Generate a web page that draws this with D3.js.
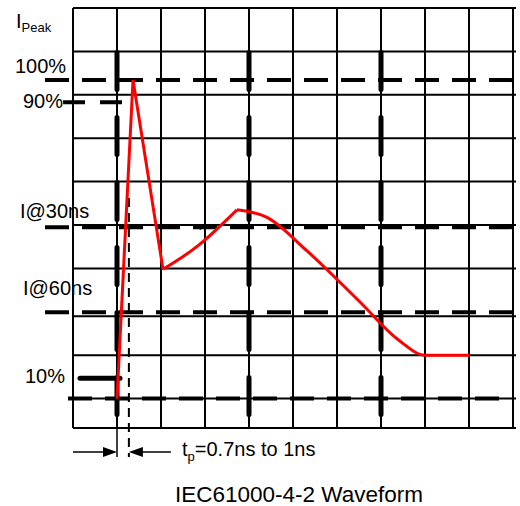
<!DOCTYPE html>
<html>
<head>
<meta charset="utf-8">
<script src="https://cdn.jsdelivr.net/npm/d3@7"></script>
<style>
  body { margin: 0; background: #fff; }
  text { font-family: "Liberation Sans", Arial, sans-serif; fill: #000; }
</style>
</head>
<body>
<div id="chart"></div>
<script>
// =========================
// IEC61000-4-2 waveform
// =========================

// grid, in divisions (x: columns from the left edge, y: rows above the 10% line)
const colLines = [0, 1, 2, 3, 4, 5, 6, 7, 8, 9, 10];
const rowLines = [-0.68, 0, 1, 1.9, 3, 4, 5, 6, 7, 8, 9];
const markerCols = [1, 4, 7];

// reference levels
const levelNames = ["100%", "90%", "I@30ns", "I@60ns", "10%"];
const levelDivs = [7.34, 6.83, 3.95, 1.99, 0];

// waveform
const riseX = [1.0, 1.364, 2.045];
const riseY = [0, 7.34, 2.98];
const humpX = [2.045, 2.85, 3.727];
const humpY = [2.98, 3.53, 4.35];
const tailX = [3.727, 4.4, 5.3, 6.5, 7.4, 8.0, 9.0];
const tailY = [4.35, 4.18, 3.42, 2.25, 1.35, 1.0, 1.0];

// rise time marker
const tpStart = 1.0;
const tpEnd = 1.27;
const tpLabel = "=0.7ns to 1ns";
const title = "IEC61000-4-2 Waveform";

// -------------------------
// SETUP
// -------------------------
const W = 520, H = 506;
const svg = d3.select("#chart").append("svg").attr("width", W).attr("height", H);

const x = d3.scaleLinear().domain([0, 10]).range([73, 513]);
const y = d3.scaleLinear().domain([0, 9]).range([398.6, 8]);

const zip = (xs, ys) => xs.map((v, i) => [v, ys[i]]);

// -------------------------
// GRID
// -------------------------
const grid = svg.append("g").attr("stroke", "#000").attr("stroke-width", 2);

grid.selectAll("line.v").data(colLines).enter().append("line")
  .attr("x1", d => x(d)).attr("x2", d => x(d))
  .attr("y1", y(9)).attr("y2", y(-0.68));

grid.selectAll("line.h").data(rowLines).enter().append("line")
  .attr("x1", x(0)).attr("x2", x(10) + 3)
  .attr("y1", d => y(d)).attr("y2", d => y(d));

// heavy dashed markers on columns 1, 4, 7
svg.append("g").selectAll("line").data(markerCols).enter().append("line")
  .attr("x1", d => x(d)).attr("x2", d => x(d))
  .attr("y1", 52.5).attr("y2", 420)
  .attr("stroke", "#000").attr("stroke-width", 5)
  .attr("stroke-linecap", "round")
  .attr("stroke-dasharray", "37,28");

// -------------------------
// LEVEL LINES + LABELS
// -------------------------
const levelLayout = {
  "100%":   { x1: 45, x2: 513, lx: 15, dy: -7 },
  "90%":    { x1: 63, x2: 123, lx: 23, dy: 6 },
  "I@30ns": { x1: 45, x2: 517, lx: 20, dy: -9 },
  "I@60ns": { x1: 45, x2: 517, lx: 23, dy: -17 },
  "10%":    { x1: 68, x2: 514, lx: 25, dy: -16 }
};

const levels = zip(levelNames, levelDivs);

svg.append("g").selectAll("line").data(levels).enter().append("line")
  .attr("x1", d => levelLayout[d[0]].x1).attr("x2", d => levelLayout[d[0]].x2)
  .attr("y1", d => y(d[1])).attr("y2", d => y(d[1]))
  .attr("stroke", "#000").attr("stroke-width", 4)
  .attr("stroke-dasharray", d => d[0] === "90%" ? "22,15" : "24,13");

svg.append("g").selectAll("text").data(levels).enter().append("text")
  .attr("x", d => levelLayout[d[0]].lx)
  .attr("y", d => y(d[1]) + levelLayout[d[0]].dy)
  .attr("font-size", 20)
  .text(d => d[0]);

// 10% pointer
svg.append("line")
  .attr("x1", 80).attr("x2", x(1) + 3)
  .attr("y1", y(0.47)).attr("y2", y(0.47))
  .attr("stroke", "#000").attr("stroke-width", 5).attr("stroke-linecap", "round");

// I Peak
const peak = svg.append("text").attr("x", 16).attr("y", 28).attr("font-size", 20);
peak.append("tspan").text("I");
peak.append("tspan").attr("font-size", 13).attr("dy", 4).text("Peak");

// stray tick on the 30ns line
svg.append("line")
  .attr("x1", x(2.77)).attr("y1", y(3.99)).attr("x2", x(2.91)).attr("y2", y(3.9))
  .attr("stroke", "#000").attr("stroke-width", 1.5);

// -------------------------
// RISE TIME MARKER
// -------------------------
const arrowY = 452;

svg.append("line")
  .attr("x1", x(tpStart)).attr("x2", x(tpStart))
  .attr("y1", y(0)).attr("y2", arrowY + 5)
  .attr("stroke", "#000").attr("stroke-width", 1.5);

svg.append("line")
  .attr("x1", x(tpEnd)).attr("x2", x(tpEnd))
  .attr("y1", 198).attr("y2", arrowY + 5)
  .attr("stroke", "#000").attr("stroke-width", 2)
  .attr("stroke-dasharray", "9,6");

function arrow(tip, tail) {
  const dir = tail > tip ? 1 : -1;
  svg.append("line")
    .attr("x1", tail).attr("x2", tip + dir * 10)
    .attr("y1", arrowY).attr("y2", arrowY)
    .attr("stroke", "#000").attr("stroke-width", 1.5);
  svg.append("path")
    .attr("d", `M${tip},${arrowY}L${tip + dir * 14},${arrowY - 5}L${tip + dir * 14},${arrowY + 5}Z`)
    .attr("fill", "#000");
}
arrow(x(tpStart), x(0));
arrow(x(tpEnd), x(tpEnd) + 42);

const tp = svg.append("text").attr("x", 182).attr("y", 456).attr("font-size", 20);
tp.append("tspan").text("t");
tp.append("tspan").attr("font-size", 13).attr("dy", 5).text("p");
tp.append("tspan").attr("dy", -5).text(tpLabel);

// -------------------------
// WAVEFORM
// -------------------------
const lineLinear = d3.line().x(d => x(d[0])).y(d => y(d[1]));
const lineHump = d3.line().x(d => x(d[0])).y(d => y(d[1])).curve(d3.curveNatural);
const lineTail = d3.line().x(d => x(d[0])).y(d => y(d[1])).curve(d3.curveMonotoneX);

const wave = svg.append("g")
  .attr("fill", "none").attr("stroke", "#ff0000")
  .attr("stroke-width", 3).attr("stroke-linejoin", "miter");

wave.append("path").attr("d", lineLinear(zip(riseX, riseY)));
wave.append("path").attr("d", lineHump(zip(humpX, humpY)));
wave.append("path").attr("d", lineTail(zip(tailX, tailY)));

// -------------------------
// TITLE
// -------------------------
svg.append("text")
  .attr("x", 175).attr("y", 502)
  .attr("font-size", 22.5)
  .text(title);
</script>
</body>
</html>
